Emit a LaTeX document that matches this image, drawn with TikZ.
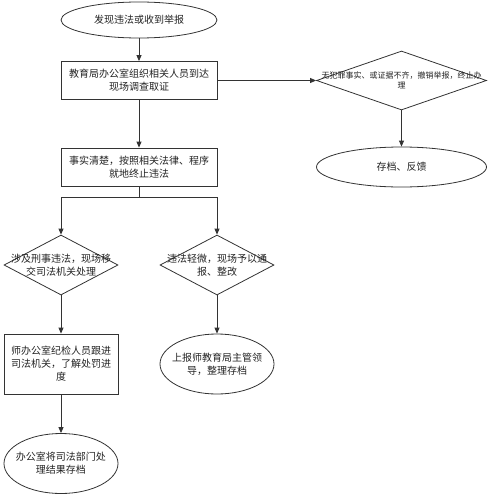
\documentclass[tikz,border=0pt]{standalone}
\usepackage{fontspec}
\newfontfamily\cjk{Noto Sans CJK SC}
\usepackage{tikz}
\usetikzlibrary{shapes.geometric, arrows.meta, positioning}
\definecolor{linegray}{HTML}{333333}
\definecolor{textgray}{HTML}{222222}

\begin{document}
\begin{tikzpicture}[x=1pt, y=-1pt, line width=0.8pt,
    every node/.style={font=\cjk\fontsize{10}{13}\selectfont, text=textgray},
    box/.style={draw=linegray, rectangle, inner sep=0pt, align=center,
        minimum width=156pt, minimum height=38pt},
    smallbox/.style={box, minimum width=114pt, minimum height=60pt},
    term/.style={draw=linegray, ellipse, inner sep=0pt, align=center,
        minimum width=156pt, minimum height=36pt},
    smallterm/.style={draw=linegray, ellipse, inner sep=0pt,
        minimum width=114pt, minimum height=60pt},
    cond/.style={draw=linegray, diamond, inner sep=0pt,
        minimum width=114pt, minimum height=60pt},
    shapetext/.style={align=center, inner sep=0pt},
    arr/.style={draw=linegray, -{Triangle[length=6pt,width=5pt]}}]
        % frame of the picture
        \useasboundingbox (0,0) rectangle (491,500);
        % main column
        \node[term] (found) at (139,20) {发现违法或收到举报};
        \node[box] (survey) at (139,80.5) {教育局办公室组织相关人员到达\\现场调查取证};
        \node[box] (stop) at (139,167) {事实清楚，按照相关法律、程序\\就地终止违法};
        % right branch
        \node[cond, minimum width=170pt, minimum height=59pt,
            label={[shapetext, font=\cjk\fontsize{8}{10}\selectfont]center:{无犯罪事实、或证据不齐，撤销举报，终止办\\理}}]
            (nocase) at (401.5,80.5) {};
        \node[term, minimum width=170pt, minimum height=40pt] (archive) at (401.5,167) {存档、反馈};
        % lower branches
        \coordinate (split) at (139,197);
        \node[cond, label={[shapetext]center:{涉及刑事违法，现场移\\交司法机关处理}}]
            (crim) at (61,265) {};
        \node[cond, label={[shapetext]center:{违法轻微，现场予以通\\报、整改}}]
            (minor) at (217,265) {};
        \node[smallbox, minimum height=60pt] (follow) at (61,364) {师办公室纪检人员跟进\\司法机关，了解处罚进\\度};
        \node[smallterm, label={[shapetext]center:{办公室将司法部门处\\理结果存档}}]
            (result) at (61,463.5) {};
        \node[smallterm, label={[shapetext]center:{上报师教育局主管领\\导，整理存档}}]
            (report) at (217,364) {};
        % connectors
        \draw[arr] (found) -- (survey);
        \draw[arr] (survey) -- (nocase);
        \draw[arr] (nocase) -- (archive);
        \draw[arr] (survey) -- (stop);
        \draw[draw=linegray] (stop) -- (split);
        \draw[arr] (split) -| (crim.north);
        \draw[arr] (split) -| (minor.north);
        \draw[arr] (crim) -- (follow);
        \draw[arr] (follow) -- (result);
        \draw[arr] (minor) -- (report);
    \end{tikzpicture}
\end{document}
